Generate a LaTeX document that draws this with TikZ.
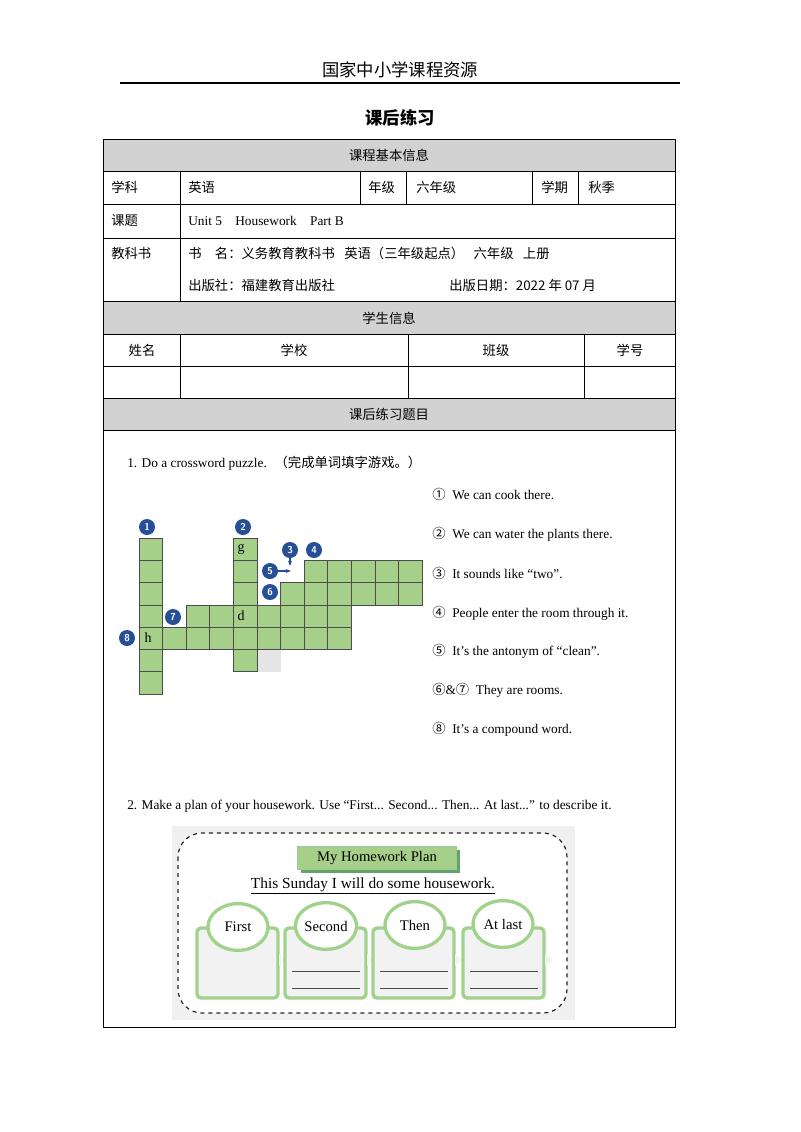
\documentclass[tikz,border=0pt]{standalone}
\usepackage{fontspec}
\setmainfont{Liberation Serif}
\newfontfamily\cjk{Noto Sans CJK SC}
\usetikzlibrary{shapes.geometric,arrows.meta,shadows}
\definecolor{cwgreen}{RGB}{166,207,138}
\definecolor{numblue}{RGB}{38,79,150}
\definecolor{glow}{RGB}{160,210,140}
\begin{document}
\begin{tikzpicture}[x=0.75pt,y=-0.75pt,
  tl/.style={line width=0.6pt,black},
  cell/.style={draw=black!70,fill=cwgreen,line width=0.5pt},
  num/.style={circle,fill=numblue,text=white,inner sep=0pt,minimum size=12pt,font=\sffamily\bfseries\fontsize{7.5}{8}\selectfont},
  txt/.style={anchor=west,font=\fontsize{10}{12}\selectfont,inner sep=0pt},
  ct/.style={font=\cjk\fontsize{10}{12}\selectfont,inner sep=0pt},
  card/.style={draw=glow,line width=2.5pt,fill=gray!10,rounded corners=3pt},
  oval/.style={ellipse,draw=glow,line width=2.5pt,fill=white,minimum width=45pt,minimum height=35pt,inner sep=0pt,font=\fontsize{11}{13}\selectfont}
]
\useasboundingbox (0,0) rectangle (800,1132);
\fill[white] (0,0) rectangle (800,1132);
% header
\node[font=\cjk\fontsize{13}{15}\selectfont] (hdr) at (400,70) {国家中小学课程资源};
\draw[line width=0.8pt] (120,83) -- (680,83);
\node[font=\cjk\bfseries\fontsize{13}{15}\selectfont] (ttl) at (400,118) {课后练习};
% gray bands
\fill[gray!35] (103,139) rectangle (675,171);
\fill[gray!35] (103,301) rectangle (675,334);
\fill[gray!35] (103,398) rectangle (675,430);
% table lines
\draw[tl] (103,139) rectangle (675,1027);
\foreach \y in {171,204,238,301,334,366,398,430} \draw[tl] (103,\y) -- (675,\y);
\foreach \x in {180,360,406,532,578} \draw[tl] (\x,171) -- (\x,204);
\draw[tl] (180,204) -- (180,301);
\foreach \x in {180,408,584} \draw[tl] (\x,334) -- (\x,398);
\node[ct] (h1) at (389,155) {课程基本信息};
\node[ct,anchor=west] (c1) at (111,187) {学科};
\node[ct,anchor=west] (c2) at (188,187) {英语};
\node[ct,anchor=west] (c3) at (368,187) {年级};
\node[ct,anchor=west] (c4) at (416,187) {六年级};
\node[ct,anchor=west] (c5) at (541,187) {学期};
\node[ct,anchor=west] (c6) at (588,187) {秋季};
\node[ct,anchor=west] (c7) at (111,221) {课题};
\node[txt] (c8) at (188,221) {Unit 5\quad Housework\quad Part B};
\node[ct,anchor=west] (c9) at (111,253) {教科书};
\node[ct,anchor=west] (c10) at (188,253) {书\hspace{1em}名：义务教育教科书\hspace{0.7em}英语（三年级起点）\hspace{0.7em}六年级\hspace{0.7em}上册};
\node[ct,anchor=west] (c11) at (188,285) {出版社：福建教育出版社};
\node[ct,anchor=west] (c12) at (449,285) {出版日期：2022 年 07 月};
\node[ct] (h2) at (389,318) {学生信息};
\node[ct] (s1) at (142,350) {姓名};
\node[ct] (s2) at (294,350) {学校};
\node[ct] (s3) at (496,350) {班级};
\node[ct] (s4) at (630,350) {学号};
\node[ct] (h3) at (389,414) {课后练习题目};
% question 1
\node[txt] (q1) at (127,463) {1. Do a crossword puzzle. \ {\cjk （完成单词填字游戏。）}};
% crossword
\fill[gray!20] (257,650) rectangle (281,672);
\foreach \c/\r in {0/0,0/1,0/2,0/3,0/4,0/5,0/6,4/0,4/1,4/2,4/3,4/5,
  7/1,8/1,9/1,10/1,11/1, 6/2,7/2,8/2,9/2,10/2,11/2,
  2/3,3/3,5/3,6/3,7/3,8/3, 1/4,2/4,3/4,4/4,5/4,6/4,7/4,8/4}
  \draw[cell] ({139+23.6*\c},{538+22.3*\r}) rectangle ++(23.6,22.3);
\node[font=\fontsize{10.5}{12}\selectfont] (lg) at (241,549) {g};
\node[font=\fontsize{10.5}{12}\selectfont] (ld) at (241,616) {d};
\node[font=\fontsize{10.5}{12}\selectfont] (lh) at (148,638) {h};
\node[num] (n1) at (147,527) {1};
\node[num] (n2) at (243,527) {2};
\node[num] (n3) at (290,550) {3};
\node[num] (n4) at (314,550) {4};
\node[num] (n5) at (270,571) {5};
\node[num] (n6) at (270,592) {6};
\node[num] (n7) at (173,617) {7};
\node[num] (n8) at (127,638) {8};
\coordinate (a3) at (290,566);
\coordinate (a5) at (291,571);
\draw[-{Stealth[length=4pt]},numblue,line width=0.8pt] (n3) -- (a3);
\draw[-{Stealth[length=4pt]},numblue,line width=0.8pt] (n5) -- (a5);
% clues
\node[txt] (k1) at (432,494) {{\cjk ①}\ \ We can cook there.};
\node[txt] (k2) at (432,534) {{\cjk ②}\ \ We can water the plants there.};
\node[txt] (k3) at (432,573) {{\cjk ③}\ \ It sounds like “two”.};
\node[txt] (k4) at (432,613) {{\cjk ④}\ \ People enter the room through it.};
\node[txt] (k5) at (432,651) {{\cjk ⑤}\ \ It’s the antonym of “clean”.};
\node[txt] (k6) at (432,690) {{\cjk ⑥}\&{\cjk ⑦}\ \ They are rooms.};
\node[txt] (k7) at (432,729) {{\cjk ⑧}\ \ It’s a compound word.};
% question 2
\node[txt] (q2) at (127,806) {2. Make a plan of your housework. Use “First... Second... Then... At last...” to describe it.};
% plan picture
\fill[gray!12] (172,826) rectangle (575,1020);
\draw[dashed,line width=0.9pt,gray!30!black,fill=white,rounded corners=18pt] (178,833) rectangle (567,1013);
\fill[green!40!black!60] (301,850) rectangle (460,873);
\node[draw=green!50!black!40,fill=cwgreen,minimum width=119pt,minimum height=17pt,inner sep=0pt,font=\fontsize{11}{13}\selectfont] (pt) at (377,858) {My Homework Plan};
\node[font=\fontsize{11.5}{14}\selectfont] (ps) at (373,886) {\underline{This Sunday I will do some housework.}};
\foreach \i/\x in {1/197,2/285,3/373,4/463}{
  \draw[card] (\x,928) rectangle ++(81,70);
  \fill[gray!10] (\x+82,954) -- (\x+89,960) -- (\x+82,966) -- cycle;
}
\foreach \x in {292,380,470}{
  \draw[gray!60!black,line width=0.6pt] (\x,971) -- ++(68,0);
  \draw[gray!60!black,line width=0.6pt] (\x,988) -- ++(68,0);
}
\node[oval] (o1) at (238,927) {First};
\node[oval] (o2) at (326,926) {Second};
\node[oval] (o3) at (415,925) {Then};
\node[oval] (o4) at (503,924) {At last};
\end{tikzpicture}
\end{document}
